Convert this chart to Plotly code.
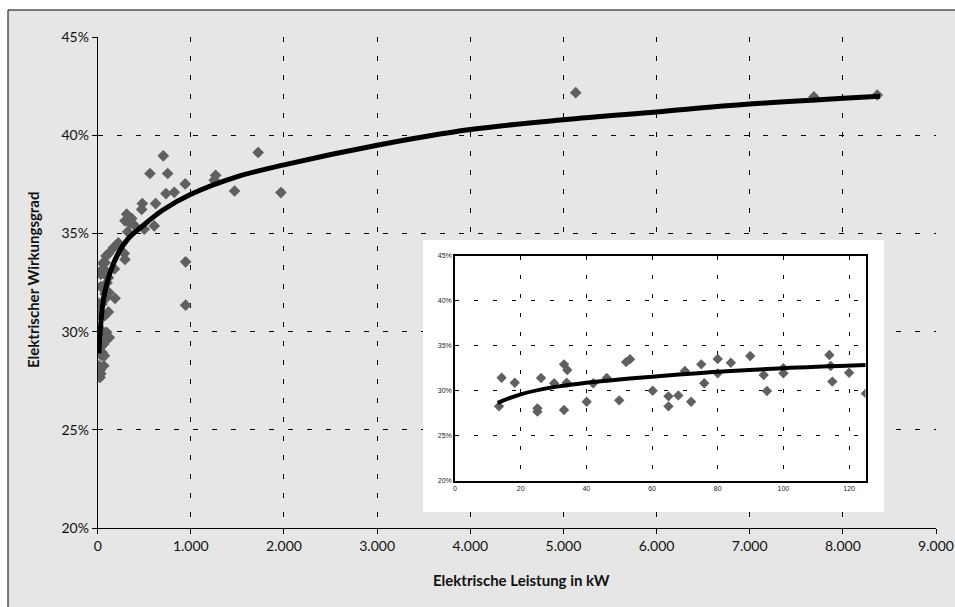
import plotly.graph_objects as go

# ---------------- data ----------------
# inset data (small units, kW / %)
inset_kw = [13.4, 14.2, 18.2, 25.1, 25.1, 26.2, 30.2, 33.2, 34.2, 34.0, 33.2, 40.1, 42.1,
            46.2, 50.0, 52.1, 53.3, 60.2, 65.0, 65.0, 68.0, 70.0, 71.9, 75.0, 75.9, 80.0,
            80.0, 84.0, 89.9, 94.0, 95.0, 100.0, 100.0, 114.0, 114.4, 114.9, 120.0, 125.1]
inset_eta = [28.26, 31.44, 30.89, 28.04, 27.67, 31.41, 30.82, 32.93, 32.3, 30.89, 27.86, 28.78, 30.82,
             31.41, 28.93, 33.18, 33.49, 29.99, 28.26, 29.37, 29.48, 32.2, 28.77, 32.93, 30.82, 33.52,
             31.93, 33.11, 33.86, 31.74, 29.97, 32.49, 31.93, 33.97, 32.75, 31.01, 32.0, 29.7]

# additional larger units shown in the main chart
large_kw = [180, 167, 186, 221, 285, 293, 322, 311, 365, 293, 347, 393, 500, 607, 472, 479, 622,
            561, 751, 704, 733, 822, 940, 1266, 1251, 1470, 1723, 1967, 944, 944, 5132, 7689, 8369]
large_eta = [33.2, 34.27, 31.7, 34.53, 33.99, 33.68, 35.09, 35.99, 35.77, 35.65, 35.51, 35.43, 35.22,
             35.39, 36.23, 36.53, 36.53, 38.06, 38.06, 38.96, 37.04, 37.1, 37.53, 37.97, 37.72, 37.17,
             39.13, 37.09, 33.56, 31.35, 42.18, 41.96, 42.06]

# trend curves
main_curve_kw = [14, 25, 43, 60, 132, 221, 328, 472, 700, 1000, 1500, 2000, 3000, 4000, 5000, 6000, 7000, 8400]
main_curve_eta = [28.9, 29.9, 30.9, 31.6, 33.0, 34.0, 34.75, 35.35, 36.2, 37.0, 37.9, 38.5, 39.5, 40.3,
                  40.8, 41.2, 41.6, 42.0]
inset_curve_kw = [13, 20, 30, 40, 50, 60, 80, 100, 126]
inset_curve_eta = [28.65, 29.6, 30.4, 30.88, 31.25, 31.55, 32.1, 32.5, 32.86]

main_xticks = [0, 1000, 2000, 3000, 4000, 5000, 6000, 7000, 8000, 9000]
main_xticktext = ["0", "1.000", "2.000", "3.000", "4.000", "5.000", "6.000", "7.000", "8.000", "9.000"]
main_yticks = [20, 25, 30, 35, 40, 45]
main_yticktext = ["20%", "25%", "30%", "35%", "40%", "45%"]
inset_xticks = [0, 20, 40, 60, 80, 100, 120]
inset_yticks = [20, 25, 30, 35, 40, 45]
inset_yticktext = ["20%", "25%", "30%", "35%", "40%", "45%"]

x_title = "Elektrische Leistung in kW"
y_title = "Elektrischer Wirkungsgrad"

# ---------------- figure ----------------
W, H = 955, 607
def px(x):
    return x / W
def py(y):
    return 1 - y / H

GRAY = "#e6e6e6"
MARK = "#606060"

fig = go.Figure()

# main chart
fig.add_trace(go.Scatter(x=inset_kw + large_kw, y=inset_eta + large_eta, mode="markers",
                         marker=dict(symbol="diamond", size=9, color=MARK),
                         xaxis="x", yaxis="y", showlegend=False, hoverinfo="skip"))
fig.add_trace(go.Scatter(x=main_curve_kw, y=main_curve_eta, mode="lines",
                         line=dict(color="black", width=5, shape="spline"),
                         xaxis="x", yaxis="y", showlegend=False, hoverinfo="skip"))

# white inset box (dummy subplot)
fig.add_trace(go.Scatter(x=[None], y=[None], mode="markers", xaxis="x2", yaxis="y2",
                         showlegend=False, hoverinfo="skip"))

# inset chart
fig.add_trace(go.Scatter(x=inset_kw, y=inset_eta, mode="markers",
                         marker=dict(symbol="diamond", size=8, color=MARK),
                         xaxis="x3", yaxis="y3", showlegend=False, hoverinfo="skip"))
fig.add_trace(go.Scatter(x=inset_curve_kw, y=inset_curve_eta, mode="lines",
                         line=dict(color="black", width=4, shape="spline"),
                         xaxis="x3", yaxis="y3", showlegend=False, hoverinfo="skip"))

tickfont = dict(family="Lato, DejaVu Sans, sans-serif", size=14, color="#111")
insetfont = dict(family="Liberation Sans, Arial, sans-serif", size=7, color="#222")

fig.update_layout(
    width=W, height=H,
    margin=dict(l=0, r=0, t=0, b=0, pad=0, autoexpand=False),
    paper_bgcolor="white",
    plot_bgcolor="white",
    xaxis=dict(domain=[px(97.7), px(936)], range=[0, 9000], anchor="y", automargin=False,
               tickmode="array", tickvals=main_xticks, ticktext=main_xticktext, tickfont=tickfont,
               showline=True, linecolor="black", linewidth=1,
               ticks="outside", ticklen=5, tickcolor="black",
               showgrid=True, gridcolor="black", gridwidth=1, griddash="5px,14px",
               zeroline=False),
    yaxis=dict(domain=[py(528), py(37.3)], range=[20, 45], anchor="x", automargin=False,
               tickmode="array", tickvals=main_yticks, ticktext=main_yticktext, tickfont=tickfont,
               showline=True, linecolor="black", linewidth=1,
               ticks="outside", ticklen=5, tickcolor="black",
               showgrid=True, gridcolor="black", gridwidth=1, griddash="5px,14px",
               zeroline=False),
    xaxis2=dict(domain=[px(423), px(884)], range=[0, 1], anchor="y2", visible=False, automargin=False,
                showgrid=False, zeroline=False),
    yaxis2=dict(domain=[py(512), py(240)], range=[0, 1], anchor="x2", visible=False, automargin=False,
                showgrid=False, zeroline=False),
    xaxis3=dict(domain=[px(455), px(865.5)], range=[0, 125], anchor="y3", automargin=False,
                tickmode="array", tickvals=inset_xticks, tickfont=insetfont,
                showline=True, mirror=True, linecolor="black", linewidth=1.5,
                ticks="", showgrid=True, gridcolor="black", gridwidth=1, griddash="4px,15px",
                zeroline=False),
    yaxis3=dict(domain=[py(480.7), py(255.7)], range=[20, 45], anchor="x3", automargin=False,
                tickmode="array", tickvals=inset_yticks, ticktext=inset_yticktext, tickfont=insetfont,
                showline=True, mirror=True, linecolor="black", linewidth=1.5,
                ticks="", showgrid=True, gridcolor="black", gridwidth=1, griddash="4px,15px",
                zeroline=False),
    shapes=[dict(type="rect", xref="paper", yref="paper", x0=px(8), x1=1.02, y0=-0.02, y1=py(10),
                 line=dict(color="black", width=1), fillcolor=GRAY, layer="below")],
    annotations=[
        dict(text=x_title, xref="paper", yref="paper", x=px(521), y=py(580), showarrow=False,
             xanchor="center", yanchor="middle",
             font=dict(family="Lato, DejaVu Sans, sans-serif", size=15, color="#111", weight="bold")),
        dict(text=y_title, xref="paper", yref="paper", x=px(33), y=py(280), showarrow=False,
             xanchor="center", yanchor="middle", textangle=-90,
             font=dict(family="Lato, DejaVu Sans, sans-serif", size=15, color="#111", weight="bold")),
    ],
)

fig.write_html("out.html", config={"displayModeBar": False},
               post_script="document.body.style.margin='0';document.body.style.overflow='hidden';")
